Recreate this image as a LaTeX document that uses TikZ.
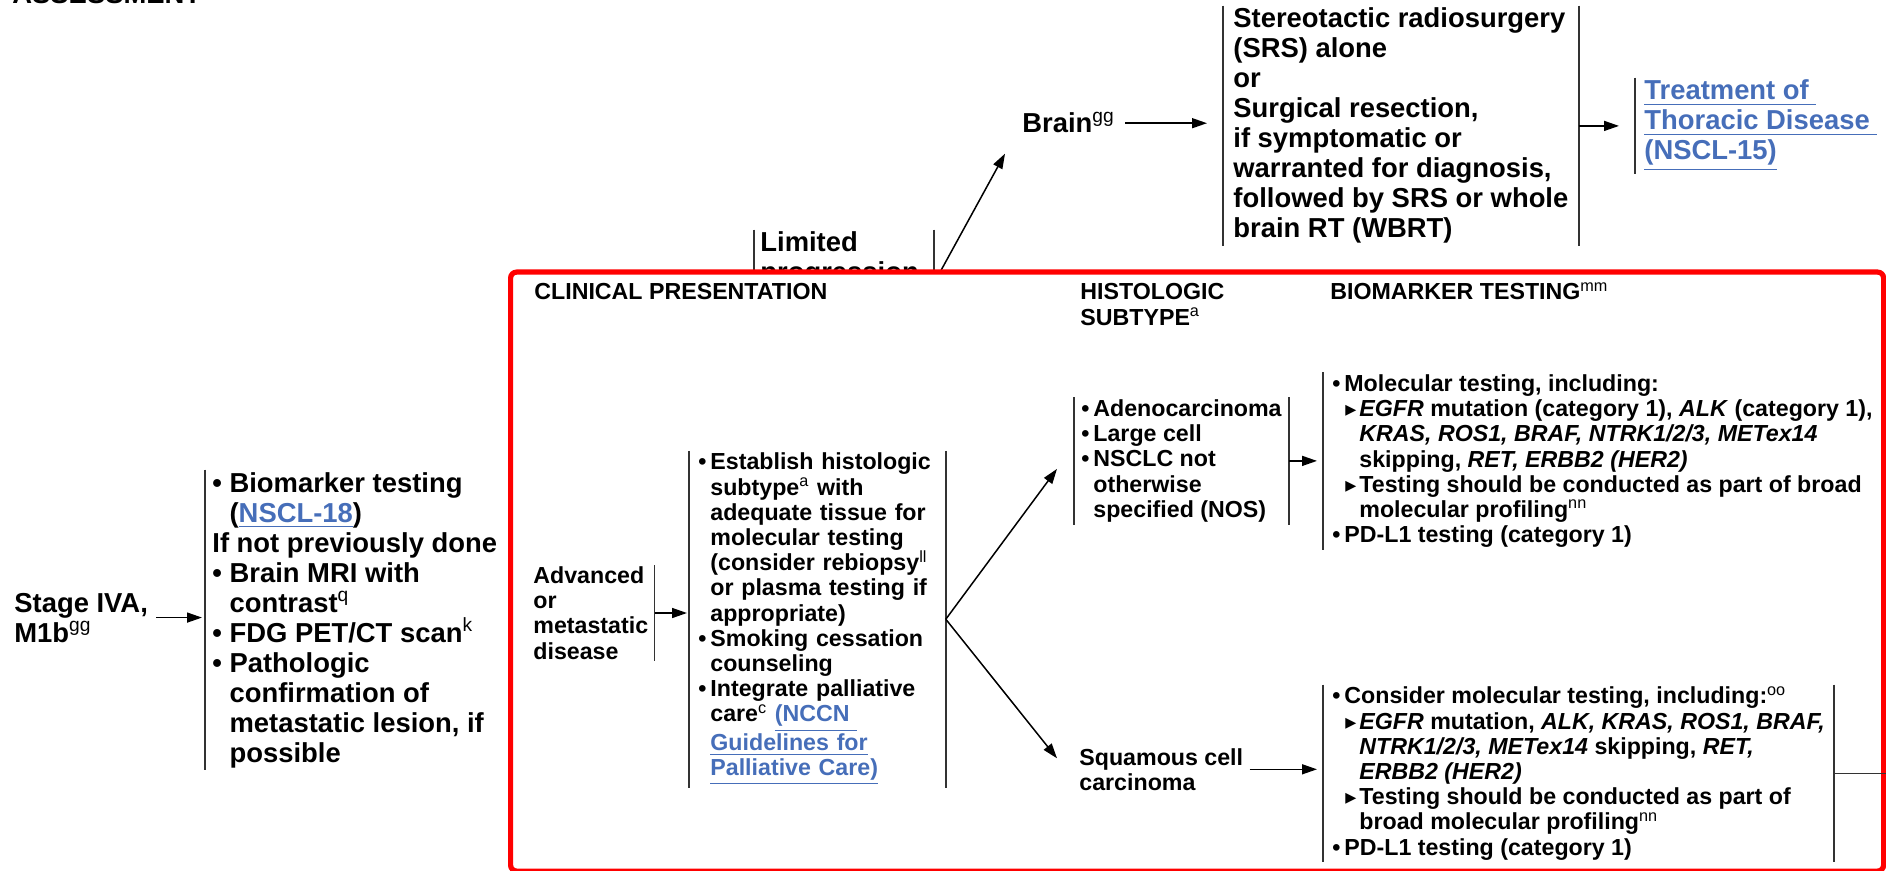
\documentclass[tikz,border=0pt]{standalone}
\usepackage{amsmath}
\usepackage{xcolor}
\usepackage{fontspec}
\setmainfont{Liberation Sans}
\newfontfamily\trifont{DejaVu Sans}
\usepackage{tikz}
\usetikzlibrary{arrows.meta}

\definecolor{linkblue}{RGB}{70,110,185}
\lineskiplimit=-\maxdimen
\newlength\bulw
\newcommand{\bigtxt}{\fontsize{13.7}{15}\selectfont\bfseries\setlength{\bulw}{8.6pt}}
\newcommand{\smalltxt}{\fontsize{11.6}{12.6}\selectfont\bfseries\setlength{\bulw}{6pt}}
\newcommand{\bul}{\makebox[\bulw][l]{•}}
\newcommand{\contl}{\hspace*{\bulw}}
\newcommand{\tri}{\hspace*{\bulw}\makebox[7.5pt][l]{\hspace{0.5pt}{\trifont\fontsize{11}{11}\selectfont ▸}}}
\newcommand{\trihang}{\hspace*{\bulw}\hspace*{7.5pt}}
\newcommand{\fnote}[1]{\smash{\textsuperscript{\mdseries #1}}}
\newcommand{\lnk}[1]{\textcolor{linkblue}{\underline{#1}}}

\begin{document}
\begin{tikzpicture}[x=0.5pt, y=-0.5pt]
        \tikzset{text style/.style={anchor=base west, align=left, inner xsep=0pt, inner ysep=1pt}}
        \tikzset{bar style/.style={line width=0.9pt, color=black!80}}
        \tikzset{arrow style/.style={-{Triangle[length=7.5pt, width=5pt]}, line width=0.75pt}}
        \tikzset{panel style/.style={draw=red, line width=2.6pt, rounded corners=3pt, fill=white, inner sep=0pt}}

        \useasboundingbox (0,0) rectangle (1886,871);

        % multi-line nodes sit on the baseline of their last line (first line if text width is set)
        \node[text style, font=\bigtxt] (assess) at (12,4) {ASSESSMENT};
        \node[text style, font=\bigtxt, inner ysep=0pt] (stage) at (14,642) {Stage IVA,\\M1b\fnote{gg}};
        \node[text style, font=\bigtxt, inner xsep=3.5pt] (asmt) at (205,762) {\bul Biomarker testing\\
            \contl(\lnk{NSCL-18})\\
            If not previously done\\
            \bul Brain MRI with\\
            \contl contrast\fnote{q}\\
            \bul FDG PET/CT scan\fnote{k}\\
            \bul Pathologic\\
            \contl confirmation of\\
            \contl metastatic lesion, if\\
            \contl possible};

        \node[text style, font=\bigtxt, inner xsep=3pt, text width=83.5pt] (lim) at (754,252) {Limited\\progression};
        \coordinate (limR) at (933,285);
        \node[text style, font=\bigtxt, inner ysep=0pt] (brain) at (1022,133) {Brain\fnote{gg}};
        \node[text style, font=\bigtxt, inner xsep=5pt] (srs) at (1223,238) {Stereotactic radiosurgery\\(SRS) alone\\or\\Surgical resection,\\if symptomatic or\\warranted for diagnosis,\\followed by SRS or whole\\brain RT (WBRT)};
        \node[text style, font=\bigtxt, inner xsep=4.5pt] (link) at (1635,160) {\lnk{Treatment of\ }\\\lnk{Thoracic Disease\ }\\\lnk{(NSCL-15)}};

        \draw[bar style] (lim.north west) -- (lim.south west);
        \draw[bar style] (lim.north east) -- (lim.south east);
        \draw[arrow style] (limR) -- ([xshift=-8.5pt, yshift=-10pt]brain.south west);

        \node[panel style, minimum width=686.5pt, minimum height=299.5pt, anchor=north west] (panel) at (508,269.5) {};

        \node[text style, font=\smalltxt, inner ysep=0pt] (hclin) at (534,300) {CLINICAL PRESENTATION};
        \node[text style, font=\smalltxt, inner ysep=0pt] (hhist) at (1080,325.2) {HISTOLOGIC\\SUBTYPE\fnote{a}};
        \node[text style, font=\smalltxt, inner ysep=0pt] (hbio) at (1330,300) {BIOMARKER TESTING\fnote{mm}};

        \node[text style, font=\smalltxt, inner xsep=3pt, inner ysep=0.5pt] (adv) at (527,659.1) {Advanced\\or\\metastatic\\disease};
        \node[text style, font=\smalltxt, inner xsep=4.5pt, text width=119pt] (est) at (689,470) {\bul Establish histologic\\
            \contl subtype\fnote{a} with\\
            \contl adequate tissue for\\
            \contl molecular testing\\
            \contl (consider rebiopsy\fnote{ll}\\
            \contl or plasma testing if\\
            \contl appropriate)\\
            \bul Smoking cessation\\
            \contl counseling\\
            \bul Integrate palliative\\
            \contl care\fnote{c} \lnk{(NCCN\ }\\
            \contl\lnk{Guidelines for}\\
            \contl\lnk{Palliative Care)}};

        \node[text style, font=\smalltxt, inner xsep=3.5pt] (hist1) at (1074,517.3) {\bul Adenocarcinoma\\\bul Large cell\\\bul NSCLC not\\\contl otherwise\\\contl specified (NOS)};
        \node[text style, font=\smalltxt, inner xsep=3pt] (hist2) at (1073,790.2) {Squamous cell\\carcinoma};

        \node[text style, font=\smalltxt, inner xsep=4.5pt] (bio1) at (1323,542.7) {\bul Molecular testing, including:\\
            \tri\textit{EGFR} mutation (category 1), \textit{ALK} (category 1),\\
            \trihang\textit{KRAS, ROS1, BRAF, NTRK1/2/3, METex14}\\
            \trihang skipping, \textit{RET, ERBB2 (HER2)}\\
            \tri Testing should be conducted as part of broad\\
            \trihang molecular profiling\fnote{nn}\\
            \bul PD-L1 testing (category 1)};
        \node[text style, font=\smalltxt, inner xsep=4.5pt] (bio2) at (1323,855) {\bul Consider molecular testing, including:\fnote{oo}\\
            \tri\textit{EGFR} mutation, \textit{ALK, KRAS, ROS1, BRAF,}\\
            \trihang\textit{NTRK1/2/3, METex14} skipping, \textit{RET,}\\
            \trihang\textit{ERBB2 (HER2)}\\
            \tri Testing should be conducted as part of\\
            \trihang broad molecular profiling\fnote{nn}\\
            \bul PD-L1 testing (category 1)};

        \draw[bar style] (asmt.north west) -- (asmt.south west);
        \draw[bar style] (srs.north west) -- (srs.south west);
        \draw[bar style] (srs.north east) -- (srs.south east);
        \draw[bar style] (link.north west) -- (link.south west);
        \draw[bar style] (adv.north east) -- (adv.south east);
        \draw[bar style] (est.north west) -- (est.south west);
        \draw[bar style] (est.north east) -- (est.south east);
        \draw[bar style] (hist1.north west) -- (hist1.south west);
        \draw[bar style] (hist1.north east) -- (hist1.south east);
        \draw[bar style] (bio1.north west) -- (bio1.south west);
        \draw[bar style] (bio2.north west) -- (bio2.south west);
        \draw[bar style] (bio2.north east) -- (bio2.south east);
        \draw[bar style] (bio2.east) -- (bio2.east -| panel.east);

        \draw[arrow style, shorten <=4pt, shorten >=1.5pt] (stage.east) -- (stage.east -| asmt.west);
        \draw[arrow style, shorten <=5pt, shorten >=8pt] (brain.east) -- (brain.east -| srs.west);
        \draw[arrow style, shorten >=8pt] (srs.east) -- (srs.east -| link.west);
        \draw[arrow style, shorten >=1pt] (adv.east) -- (adv.east -| est.west);
        \draw[arrow style] (est.east) -- ([xshift=-8.5pt, yshift=-4pt]hist1.west);
        \draw[arrow style] (est.east) -- ([xshift=-8pt, yshift=5.5pt]hist2.west);
        \draw[arrow style, shorten >=3pt] (hist1.east) -- (hist1.east -| bio1.west);
        \draw[arrow style, shorten >=3pt] (hist2.east) -- (hist2.east -| bio2.west);
    \end{tikzpicture}
\end{document}
